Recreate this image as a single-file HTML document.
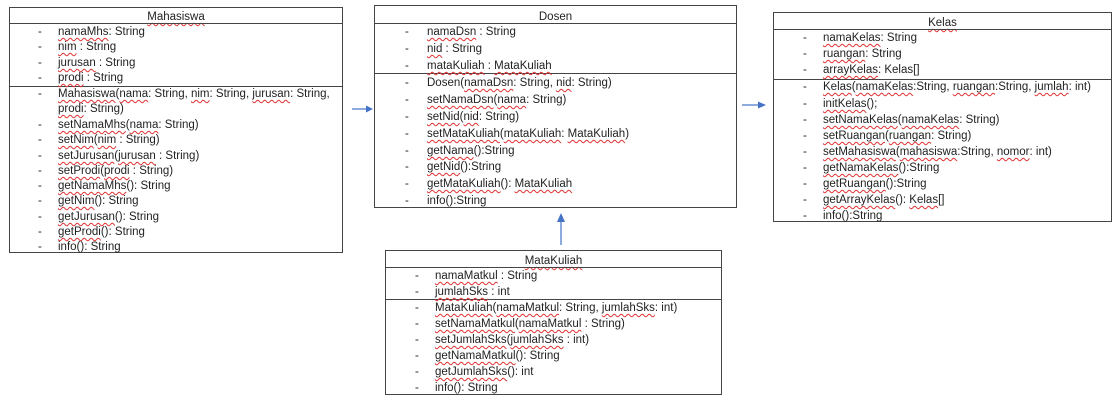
<!DOCTYPE html>
<html><head><meta charset="utf-8"><style>
body{margin:0;width:1117px;height:402px;background:#fff;position:relative;overflow:hidden;font-family:"Liberation Sans",Arial,sans-serif;font-size:11.5px;color:#222}
.box{position:absolute;border:1px solid #444;box-sizing:border-box}
.hr{position:absolute;left:0;right:0;border-top:1px solid #444}
.t{position:absolute;white-space:nowrap;line-height:14px}
.c{position:absolute;left:0;right:0;text-align:center;line-height:14px}
.w{text-decoration:underline wavy #e03030;text-decoration-thickness:1px;text-underline-offset:2px}
</style></head><body>

<div class="box" style="left:9px;top:7px;width:334px;height:246px">
<div class="c" style="top:2px"><span class="w">Mahasiswa</span></div>
<div class="hr" style="top:15px"></div>
<div class="hr" style="top:78px"></div>
</div>

<div class="box" style="left:374px;top:5px;width:363px;height:203px">
<div class="c" style="top:4px">Dosen</div>
<div class="hr" style="top:17px"></div>
<div class="hr" style="top:67px"></div>
</div>

<div class="box" style="left:773px;top:12px;width:339px;height:210px">
<div class="c" style="top:3px"><span class="w">Kelas</span></div>
<div class="hr" style="top:16px"></div>
<div class="hr" style="top:66px"></div>
</div>

<div class="box" style="left:385px;top:250px;width:337px;height:145px">
<div class="c" style="top:3px"><span class="w">MataKuliah</span></div>
<div class="hr" style="top:16px"></div>
<div class="hr" style="top:48px"></div>
</div>

<svg width="1117" height="402" style="position:absolute;left:0;top:0">
<g stroke="#4472c4" stroke-width="1.2" fill="#4472c4">
<line x1="352" y1="109" x2="366" y2="109"/><polygon points="366,105.5 373,109 366,112.5" stroke="none"/>
<line x1="742" y1="105" x2="758" y2="105"/><polygon points="758,101.5 766,105 758,108.5" stroke="none"/>
<line x1="561" y1="245" x2="561" y2="221"/><polygon points="557,222 561,213 565,222" stroke="none"/>
</g></svg>

<script>
function rows(dx,tx,ys,items){let h='';items.forEach((s,i)=>{h+=`<div class="t" style="left:${dx}px;top:${ys[i]-6}px">-</div><div class="t" style="left:${tx}px;top:${ys[i]-6}px">${s}</div>`});document.body.insertAdjacentHTML('beforeend',h);}
const W=s=>`<span class="w">${s}</span>`;
rows(38,58,[31,46,62,77,93,124,139,155,170,185,200,216,231,246],[
W('namaMhs')+': String',W('nim')+' : String',W('jurusan')+' : String',W('prodi')+' : String',
W('Mahasiswa')+'('+W('nama')+': String, '+W('nim')+': String, '+W('jurusan')+': String,',
W('setNamaMhs')+'('+W('nama')+': String)',W('setNim')+'('+W('nim')+' : String)',W('setJurusan')+'('+W('jurusan')+' : String)',
W('setProdi')+'('+W('prodi')+' : String)',W('getNamaMhs')+'(): String',W('getNim')+'(): String',W('getJurusan')+'(): String',
W('getProdi')+'(): String','info(): String']);
document.body.insertAdjacentHTML('beforeend','<div class="t" style="left:58px;top:102px">'+W('prodi')+': String)</div>');
rows(405,427,[31,48,65,82,99,116,133,150,166,183,200],[
W('namaDsn')+' : String',W('nid')+' : String',W('mataKuliah')+' : '+W('MataKuliah'),
'Dosen('+W('namaDsn')+': String, '+W('nid')+': String)',W('setNamaDsn')+'('+W('nama')+': String)',W('setNid')+'('+W('nid')+': String)',
W('setMataKuliah')+'('+W('mataKuliah')+': '+W('MataKuliah')+')',W('getNama')+'():String',W('getNid')+'():String',
W('getMataKuliah')+'(): '+W('MataKuliah'),'info():String']);
rows(803,823,[37,53,69,86,103,119,135,151,167,183,199,215],[
W('namaKelas')+': String',W('ruangan')+': String',W('arrayKelas')+': Kelas[]',
W('Kelas')+'('+W('namaKelas')+':String, '+W('ruangan')+':String, '+W('jumlah')+': int)',W('initKelas')+'();',
W('setNamaKelas')+'('+W('namaKelas')+': String)',W('setRuangan')+'('+W('ruangan')+': String)',
W('setMahasiswa')+'('+W('mahasiswa')+':String, '+W('nomor')+': int)',W('getNamaKelas')+'():String',W('getRuangan')+'():String',
W('getArrayKelas')+'(): '+W('Kelas')+'[]','info():String']);
rows(415,435,[275,291,307,323,339,355,371,387],[
W('namaMatkul')+' : String',W('jumlahSks')+' : int',
W('MataKuliah')+'('+W('namaMatkul')+': String, '+W('jumlahSks')+': int)',W('setNamaMatkul')+'('+W('namaMatkul')+' : String)',
W('setJumlahSks')+'('+W('jumlahSks')+' : int)',W('getNamaMatkul')+'(): String',W('getJumlahSks')+'(): int','info(): String']);
</script>
</body></html>
